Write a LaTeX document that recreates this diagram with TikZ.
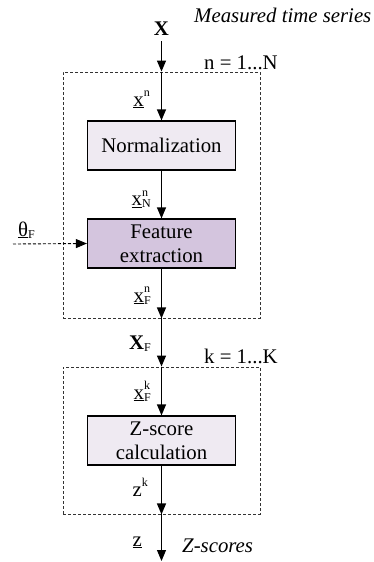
\documentclass[tikz,border=0pt]{standalone}
\usepackage{fontspec}
\setmainfont{Liberation Serif}
\usetikzlibrary{arrows.meta}
\definecolor{lightbox}{HTML}{EFEAF2}
\definecolor{darkbox}{HTML}{D4C5DE}
% small index letters, placed above and below the baseline
\newcommand\idx[1]{{\fontsize{12}{12}\selectfont\mdseries #1}}
\newcommand\sig[3]{#1\rlap{\raisebox{9.5pt}{\idx{#2}}}\raisebox{-2.3pt}{\idx{#3}}}
\newcommand\supr[2]{#1\raisebox{9.5pt}{\idx{#2}}}
\newcommand\subr[2]{#1\raisebox{-2.3pt}{\idx{#2}}}
\newcommand\ul[1]{\underline{#1}}
\begin{document}
\begin{tikzpicture}[x=1pt,y=-1pt,
  every node/.style={font=\fontsize{20.8}{24}\selectfont, inner sep=0pt},
  block/.style={draw=black, line width=1.2pt, minimum width=148pt, minimum height=49pt, align=center},
  loopbox/.style={draw=black!80, line width=0.9pt, dash pattern=on 3pt off 2pt, minimum width=197pt},
  flow/.style={line width=1.2pt, -{Triangle[length=11pt,width=9pt]}},
  dflow/.style={line width=0.9pt, dash pattern=on 3pt off 2pt, -{Triangle[length=11pt,width=9pt]}},
  lbl/.style={anchor=base east}]
\useasboundingbox (0,0) rectangle (373,562);

% iteration frames
\node[loopbox, minimum height=246pt] (loopn) at (161.5,195) {};
\node[loopbox, minimum height=147pt] (loopk) at (161.5,440.5) {};

% processing blocks
\node[block, fill=lightbox] (norm) at (161.5,145.5) {Normalization};
\node[block, fill=darkbox] (feat) at (161.5,243.5) {Feature\\extraction};
\node[block, fill=lightbox] (zcalc) at (161.5,440.5) {Z-score\\calculation};

% input, parameter and output ends
\node[font=\fontsize{20.8}{24}\selectfont\bfseries, anchor=base] (xin) at (161.5,35) {X};
\coordinate (thsrc) at (13,244);
\coordinate (zout) at (161.5,561);

% texts
\node[font=\fontsize{20.8}{24}\selectfont\itshape, anchor=base west] (meas) at (194,22) {Measured time series};
\node[anchor=base west] (nrange) at (204,69) {n = 1...N};
\node[anchor=base west] (krange) at (204,363) {k = 1...K};
\node[font=\fontsize{20.8}{24}\selectfont\itshape, anchor=base west] (zsc) at (182,552) {Z-scores};

% signal labels
\node[lbl] (lxn) at (150,106) {\supr{\ul{x}}{n}};
\node[lbl] (lxnn) at (151,205.5) {\sig{\ul{x}}{n}{N}};
\node[lbl] (lxfn) at (151,302) {\sig{\ul{x}}{n}{F}};
\node[lbl] (lXF) at (151,349) {\subr{{\bfseries X}}{F}};
\node[lbl] (lxfk) at (151,399) {\sig{\ul{x}}{k}{F}};
\node[lbl] (lzk) at (148,496) {\supr{z}{k}};
\node[lbl] (lz) at (142,546) {\ul{z}};
\node[anchor=base west] (lth) at (18,236) {\subr{\ul{θ}}{F}};

% connectors
\draw[flow] (xin.south) ++(0,6) -- (loopn.north);
\draw[flow] (loopn.north) -- (norm.north);
\draw[flow] (norm.south) -- (feat.north);
\draw[flow] (feat.south) -- (loopn.south);
\draw[flow] (loopn.south) -- (loopk.north);
\draw[flow] (loopk.north) -- (zcalc.north);
\draw[flow] (zcalc.south) -- (loopk.south);
\draw[flow] (loopk.south) -- (zout);
\draw[dflow] (thsrc) -- (feat.west);
\end{tikzpicture}
\end{document}
